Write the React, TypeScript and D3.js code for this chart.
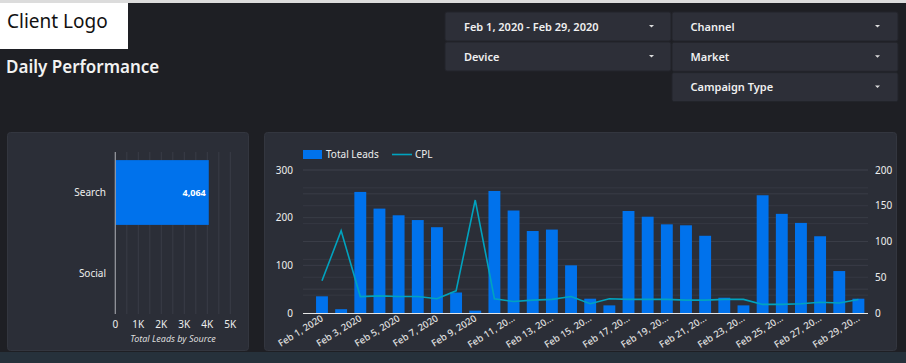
import React from "react";
import * as d3 from "d3";

const days = [
  "Feb 1, 2020", "Feb 2, 2020", "Feb 3, 2020", "Feb 4, 2020", "Feb 5, 2020",
  "Feb 6, 2020", "Feb 7, 2020", "Feb 8, 2020", "Feb 9, 2020", "Feb 10, 2020",
  "Feb 11, 2020", "Feb 12, 2020", "Feb 13, 2020", "Feb 14, 2020", "Feb 15, 2020",
  "Feb 16, 2020", "Feb 17, 2020", "Feb 18, 2020", "Feb 19, 2020", "Feb 20, 2020",
  "Feb 21, 2020", "Feb 22, 2020", "Feb 23, 2020", "Feb 24, 2020", "Feb 25, 2020",
  "Feb 26, 2020", "Feb 27, 2020", "Feb 28, 2020", "Feb 29, 2020",
];
const totalLeads = [
  35, 8, 254, 219, 205, 195, 180, 43, 5, 256, 215, 172, 175, 100, 30,
  16, 214, 202, 186, 184, 162, 32, 16, 247, 208, 189, 161, 88, 30,
];
const cpl = [
  45, 115, 23, 24, 23, 23, 20, 31, 158, 20, 16, 18, 19, 23, 13,
  20, 19, 19, 19, 18, 18, 19, 19, 12, 12, 13, 15, 14, 19,
];
const sources = ["Search", "Social"];
const sourceLeads = [4064, 0];
const leftTicks = [0, 100, 200, 300];
const rightTicks = [0, 50, 100, 150, 200];
const filtersLeft = ["Feb 1, 2020 - Feb 29, 2020", "Device"];
const filtersRight = ["Channel", "Market", "Campaign Type"];

const BLUE = "#0072ec";
const TEAL = "#00a3bf";
const PANEL = "#2b2e37";
const GRID = "#3a3d47";
const FONT = "'Noto Sans', sans-serif";

const trunc = (s: string) => (s.length > 11 ? s.slice(0, 10) + "..." : s);
const kfmt = (t: number) => (t === 0 ? "0" : t / 1000 + "K");

const App = () => {
  // main combo chart scales
  const x = d3.scaleBand<string>().domain(days).range([312.4, 868]).paddingInner(0.38).paddingOuter(0.19);
  const yL = d3.scaleLinear().domain([0, 300]).range([313, 170]);
  const yR = d3.scaleLinear().domain([0, 200]).range([313, 170]);
  const cx = (d: string) => (x(d) as number) + x.bandwidth() / 2;
  const line = d3
    .line<number>()
    .x((_, i) => cx(days[i]))
    .y((v) => yR(v));

  // source bar chart scales
  const sx = d3.scaleLinear().domain([0, 5000]).range([115.3, 230.3]);
  const sy = d3.scaleBand<string>().domain(sources).range([152, 314]).paddingInner(0.2).paddingOuter(0.1);

  return (
    <svg width={906} height={363} style={{ position: "absolute", left: 0, top: 0 }} fontFamily={FONT}>
      <rect width={906} height={363} fill="#1e1f24" />
      <rect width={906} height={3} fill="#dcdcdc" />
      <rect y={352} width={906} height={11} fill="#26313b" />

      {/* header */}
      <rect x={0} y={3} width={128} height={46} fill="#fff" />
      <text x={7} y={28} fontSize={19} fill="#111">Client Logo</text>
      <text x={6} y={73} fontSize={17} fontWeight={600} fill="#f2f2f2">Daily Performance</text>

      {filtersLeft.map((f, i) => (
        <g key={f} transform={`translate(445,${12 + i * 30})`}>
          <rect width={226} height={29} rx={2} fill="#2d2f38" stroke="#23252b" />
          <text x={19} y={18.5} fontSize={11} fontWeight={600} fill="#f0f0f0">{f}</text>
          <path d="M204,13 l5,0 l-2.5,2.5z" fill="#ddd" />
        </g>
      ))}
      {filtersRight.map((f, i) => (
        <g key={f} transform={`translate(672,${12 + i * 30.3})`}>
          <rect width={226} height={29} rx={2} fill="#2d2f38" stroke="#23252b" />
          <text x={18.5} y={18.5} fontSize={11} fontWeight={600} fill="#f0f0f0">{f}</text>
          <path d="M203,13 l5,0 l-2.5,2.5z" fill="#ddd" />
        </g>
      ))}

      {/* leads by source panel */}
      <rect x={7.5} y={132.5} width={241} height={218} rx={3} fill={PANEL} stroke="#33363f" />
      {d3.range(500, 5001, 500).map((t) => (
        <line key={t} x1={sx(t)} x2={sx(t)} y1={152} y2={314} stroke={GRID} />
      ))}
      {sources.map((s, i) => (
        <g key={s}>
          <rect x={sx(0)} y={sy(s)} width={sx(sourceLeads[i]) - sx(0)} height={sy.bandwidth()} fill={BLUE} />
          <text x={106} y={(sy(s) as number) + sy.bandwidth() / 2 + 3.5} textAnchor="end" fontSize={10} fill="#eee">{s}</text>
          {sourceLeads[i] > 0 && (
            <text x={sx(sourceLeads[i]) - 3} y={(sy(s) as number) + sy.bandwidth() / 2 + 3.5} textAnchor="end" fontSize={9} fontWeight={700} fill="#fff">
              {d3.format(",")(sourceLeads[i])}
            </text>
          )}
        </g>
      ))}
      <line x1={sx(0)} x2={sx(0)} y1={152} y2={314} stroke="#9a9ca3" strokeWidth={1.2} />
      {sx.ticks(5).map((t) => (
        <text key={t} x={sx(t)} y={328} textAnchor="middle" fontSize={10} fill="#eee">
          {kfmt(t)}
        </text>
      ))}
      <text x={173} y={342} textAnchor="middle" fontSize={9} fontStyle="italic" fill="#ddd">Total Leads by Source</text>

      {/* daily performance combo chart */}
      <rect x={264.5} y={132.5} width={632} height={218} rx={3} fill={PANEL} stroke="#33363f" />
      {d3.range(50, 301, 50).map((t) => (
        <line key={"l" + t} x1={303} x2={868} y1={yL(t)} y2={yL(t)} stroke={GRID} />
      ))}
      {d3.range(25, 201, 25).map((t) => (
        <line key={"r" + t} x1={303} x2={868} y1={yR(t)} y2={yR(t)} stroke={GRID} strokeOpacity={0.7} />
      ))}
      {leftTicks.map((t) => (
        <text key={t} x={293} y={yL(t) + 3.5} textAnchor="end" fontSize={10} fill="#eee">{t}</text>
      ))}
      {rightTicks.map((t) => (
        <text key={t} x={875} y={yR(t) + 3.5} fontSize={10} fill="#eee">{t}</text>
      ))}
      {days.map((d, i) => (
        <rect key={d} x={x(d)} y={yL(totalLeads[i])} width={x.bandwidth()} height={yL(0) - yL(totalLeads[i])} fill={BLUE} />
      ))}
      <line x1={303} x2={868} y1={313.5} y2={313.5} stroke="#e6e6e6" strokeWidth={1.2} />
      <path d={line(cpl) as string} fill="none" stroke={TEAL} strokeWidth={1.6} />
      {days.map((d, i) =>
        i % 2 === 0 ? (
          <text key={d} transform={`translate(${cx(d) + 2},${320}) rotate(-32)`} textAnchor="end" fontSize={9.5} fontWeight={500} fill="#e0e0e0">
            {trunc(d)}
          </text>
        ) : null
      )}

      {/* legend */}
      <rect x={303} y={150} width={19} height={9} fill={BLUE} />
      <text x={326} y={158} fontSize={10} fill="#eee">Total Leads</text>
      <line x1={392} x2={412} y1={154.5} y2={154.5} stroke={TEAL} strokeWidth={1.6} />
      <text x={415} y={158} fontSize={10} fill="#eee">CPL</text>
    </svg>
  );
};

export default App;
